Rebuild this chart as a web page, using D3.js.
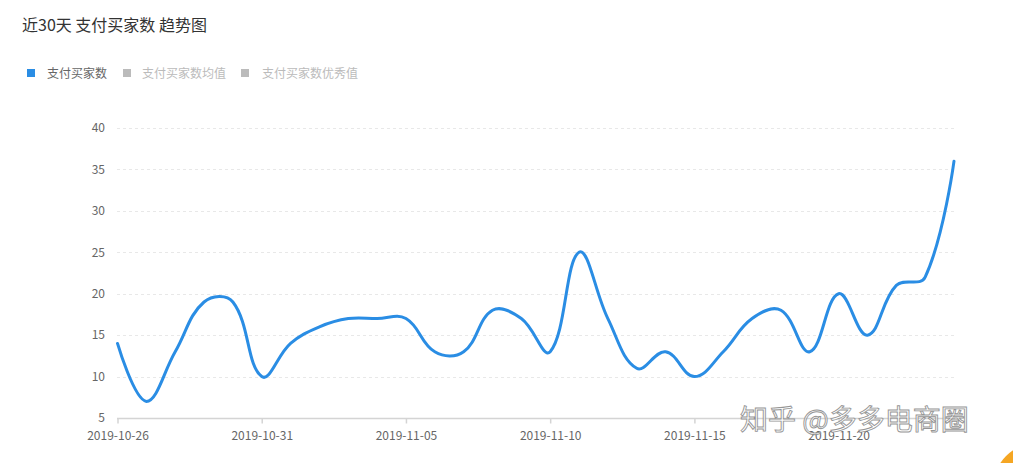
<!DOCTYPE html>
<html>
<head>
<meta charset="utf-8">
<script src="https://cdn.jsdelivr.net/npm/d3@7/dist/d3.min.js"></script>
<style>
  html, body { margin: 0; padding: 0; background: #fff; }
  svg { display: block; }
  text { font-family: "Noto Sans CJK SC", "Microsoft YaHei", sans-serif; }
</style>
</head>
<body>
<svg id="chart" width="1013" height="463"></svg>
<script>
// ---- data ----
const dates = [
  "2019-10-26","2019-10-27","2019-10-28","2019-10-29","2019-10-30",
  "2019-10-31","2019-11-01","2019-11-02","2019-11-03","2019-11-04",
  "2019-11-05","2019-11-06","2019-11-07","2019-11-08","2019-11-09",
  "2019-11-10","2019-11-11","2019-11-12","2019-11-13","2019-11-14",
  "2019-11-15","2019-11-16","2019-11-17","2019-11-18","2019-11-19",
  "2019-11-20","2019-11-21","2019-11-22","2019-11-23","2019-11-24"
];
const buyers = [14, 7, 13, 19, 19, 10, 14, 16, 17, 17,
                17, 13, 13, 18, 17, 13, 25, 17, 11, 13,
                10, 13, 17, 18, 13, 20, 15, 21, 22, 36];
const yTicks = [5, 10, 15, 20, 25, 30, 35, 40];
const xTickLabels = ["2019-10-26","2019-10-31","2019-11-05","2019-11-10","2019-11-15","2019-11-20"];
const legendItems = ["支付买家数", "支付买家数均值", "支付买家数优秀值"];
const title = "近30天 支付买家数 趋势图";
const watermark = "知乎 @多多电商圈";

// ---- smooth curve (distance-weighted bezier, constrained to data extent) ----
function SmoothCurve(context, smooth) { this._context = context; this._smooth = smooth; }
SmoothCurve.prototype = {
  areaStart() {}, areaEnd() {},
  lineStart() { this._pts = []; },
  point(x, y) { this._pts.push([+x, +y]); },
  lineEnd() {
    const p = this._pts, n = p.length, c = this._context, s = this._smooth;
    if (!n) return;
    const minX = d3.min(p, d => d[0]), maxX = d3.max(p, d => d[0]);
    const minY = d3.min(p, d => d[1]), maxY = d3.max(p, d => d[1]);
    const clamp = (v, a, b) => Math.max(a, Math.min(b, v));
    const cpIn = [], cpOut = [];
    for (let i = 0; i < n; i++) {
      if (i === 0 || i === n - 1) { cpIn.push(p[i]); cpOut.push(p[i]); continue; }
      const prev = p[i - 1], cur = p[i], next = p[i + 1];
      const vx = (next[0] - prev[0]) * s, vy = (next[1] - prev[1]) * s;
      let d0 = Math.hypot(cur[0] - prev[0], cur[1] - prev[1]);
      let d1 = Math.hypot(next[0] - cur[0], next[1] - cur[1]);
      const sum = d0 + d1;
      if (sum) { d0 /= sum; d1 /= sum; }
      cpIn.push([clamp(cur[0] - vx * d0, minX, maxX), clamp(cur[1] - vy * d0, minY, maxY)]);
      cpOut.push([clamp(cur[0] + vx * d1, minX, maxX), clamp(cur[1] + vy * d1, minY, maxY)]);
    }
    c.moveTo(p[0][0], p[0][1]);
    for (let i = 1; i < n; i++) {
      c.bezierCurveTo(cpOut[i - 1][0], cpOut[i - 1][1], cpIn[i][0], cpIn[i][1], p[i][0], p[i][1]);
    }
  }
};
const curveSmooth = s => context => new SmoothCurve(context, s);

// ---- chart ----
const svg = d3.select("#chart");
const lineColor = "#2a8de4";

const x = d3.scalePoint().domain(dates).range([117.5, 954]);
const y = d3.scaleLinear().domain([5, 40]).range([418, 128]);

// title
svg.append("text").attr("x", 22).attr("y", 31)
  .attr("font-size", 16).attr("fill", "#333").text(title);

// legend
const legendPos = [{sx: 27, tx: 47}, {sx: 123, tx: 142}, {sx: 241, tx: 262}];
const legendSq = [lineColor, "#bbb", "#bbb"];
const legendTxt = ["#666", "#bbb", "#bbb"];
legendItems.forEach((name, i) => {
  svg.append("rect").attr("x", legendPos[i].sx).attr("y", 69)
    .attr("width", 8).attr("height", 8).attr("fill", legendSq[i]);
  svg.append("text").attr("x", legendPos[i].tx).attr("y", 77.5)
    .attr("font-size", 12).attr("fill", legendTxt[i]).text(name);
});

// gridlines
const grid = svg.append("g");
grid.selectAll("line").data(yTicks.filter(d => d > 5)).join("line")
  .attr("x1", 117).attr("x2", 955)
  .attr("y1", d => Math.round(y(d)) + 0.5).attr("y2", d => Math.round(y(d)) + 0.5)
  .attr("stroke", "#e8e8e8").attr("stroke-dasharray", "3,3");

// y axis labels
const yAxis = d3.axisLeft(y).tickValues(yTicks).tickSize(0).tickPadding(0);
const gy = svg.append("g").attr("transform", "translate(105,0)").call(yAxis);
gy.select(".domain").remove();
gy.selectAll("text").attr("font-size", 12).attr("fill", "#666")
  .style("font-family", "'Noto Sans CJK SC', sans-serif");

// x axis
const xAxis = d3.axisBottom(x).tickValues(xTickLabels).tickSize(5).tickPadding(8).tickSizeOuter(0);
const gx = svg.append("g").attr("transform", "translate(0,418.5)").call(xAxis);
gx.select(".domain").attr("stroke", "#d4d4d4").attr("stroke-width", 1.5)
  .attr("d", "M117,0H955");
gx.selectAll(".tick line").attr("stroke", "#d4d4d4").attr("stroke-width", 1.5);
gx.selectAll("text").attr("font-size", 12).attr("fill", "#666")
  .style("font-family", "'Noto Sans CJK SC', sans-serif");

// line
const line = d3.line()
  .x((d, i) => x(dates[i]))
  .y(d => y(d))
  .curve(curveSmooth(0.4));
svg.append("path").datum(buyers)
  .attr("d", line)
  .attr("fill", "none")
  .attr("stroke", lineColor)
  .attr("stroke-width", 3)
  .attr("stroke-linejoin", "round")
  .attr("stroke-linecap", "round");

// watermark
svg.append("text").attr("x", 740).attr("y", 430)
  .attr("font-size", 28).attr("fill", "#fff").attr("stroke", "#8a8a8a")
  .attr("stroke-width", 0.9).attr("opacity", 0.9).text(watermark);

// orange corner decoration
svg.append("circle").attr("cx", 1040).attr("cy", 490).attr("r", 48)
  .attr("fill", "#f5a623");
</script>
</body>
</html>
